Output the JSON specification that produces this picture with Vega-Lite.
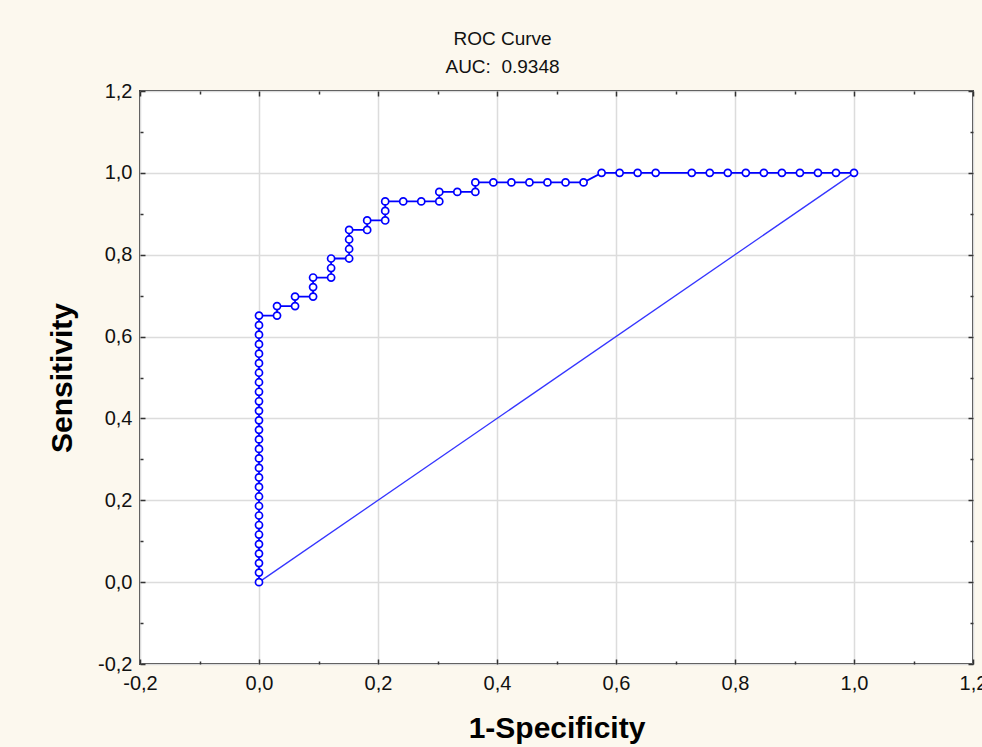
{
  "$schema": "https://vega.github.io/schema/vega-lite/v6.json",
  "autosize": "none",
  "width": 833,
  "height": 573,
  "padding": {"left": 140, "top": 91, "right": 9, "bottom": 83},
  "background": "#FCF8EE",
  "config": {
    "view": {"fill": "white", "stroke": "#3a3a3a", "strokeWidth": 2},
    "font": "Liberation Sans, Arial, sans-serif"
  },
  "title": {
    "text": ["ROC Curve", "AUC:\u00a0 0.9348"],
    "fontSize": 19,
    "fontWeight": "normal",
    "font": "Liberation Sans, Arial, sans-serif",
    "color": "#111",
    "lineHeight": 28,
    "anchor": "middle",
    "offset": 4,
    "dx": -54
  },
  "datasets": {
    "roc": [
      {"k": 1, "fpr": 0, "tpr": 0},
      {"k": 2, "fpr": 0, "tpr": 0.0233},
      {"k": 3, "fpr": 0, "tpr": 0.0465},
      {"k": 4, "fpr": 0, "tpr": 0.0698},
      {"k": 5, "fpr": 0, "tpr": 0.0930},
      {"k": 6, "fpr": 0, "tpr": 0.1163},
      {"k": 7, "fpr": 0, "tpr": 0.1395},
      {"k": 8, "fpr": 0, "tpr": 0.1628},
      {"k": 9, "fpr": 0, "tpr": 0.1860},
      {"k": 10, "fpr": 0, "tpr": 0.2093},
      {"k": 11, "fpr": 0, "tpr": 0.2326},
      {"k": 12, "fpr": 0, "tpr": 0.2558},
      {"k": 13, "fpr": 0, "tpr": 0.2791},
      {"k": 14, "fpr": 0, "tpr": 0.3023},
      {"k": 15, "fpr": 0, "tpr": 0.3256},
      {"k": 16, "fpr": 0, "tpr": 0.3488},
      {"k": 17, "fpr": 0, "tpr": 0.3721},
      {"k": 18, "fpr": 0, "tpr": 0.3953},
      {"k": 19, "fpr": 0, "tpr": 0.4186},
      {"k": 20, "fpr": 0, "tpr": 0.4419},
      {"k": 21, "fpr": 0, "tpr": 0.4651},
      {"k": 22, "fpr": 0, "tpr": 0.4884},
      {"k": 23, "fpr": 0, "tpr": 0.5116},
      {"k": 24, "fpr": 0, "tpr": 0.5349},
      {"k": 25, "fpr": 0, "tpr": 0.5581},
      {"k": 26, "fpr": 0, "tpr": 0.5814},
      {"k": 27, "fpr": 0, "tpr": 0.6047},
      {"k": 28, "fpr": 0, "tpr": 0.6279},
      {"k": 29, "fpr": 0, "tpr": 0.6512},
      {"k": 30, "fpr": 0.0303, "tpr": 0.6512},
      {"k": 31, "fpr": 0.0303, "tpr": 0.6744},
      {"k": 32, "fpr": 0.0606, "tpr": 0.6744},
      {"k": 33, "fpr": 0.0606, "tpr": 0.6977},
      {"k": 34, "fpr": 0.0909, "tpr": 0.6977},
      {"k": 35, "fpr": 0.0909, "tpr": 0.7209},
      {"k": 36, "fpr": 0.0909, "tpr": 0.7442},
      {"k": 37, "fpr": 0.1212, "tpr": 0.7442},
      {"k": 38, "fpr": 0.1212, "tpr": 0.7674},
      {"k": 39, "fpr": 0.1212, "tpr": 0.7907},
      {"k": 40, "fpr": 0.1515, "tpr": 0.7907},
      {"k": 41, "fpr": 0.1515, "tpr": 0.8140},
      {"k": 42, "fpr": 0.1515, "tpr": 0.8372},
      {"k": 43, "fpr": 0.1515, "tpr": 0.8605},
      {"k": 44, "fpr": 0.1818, "tpr": 0.8605},
      {"k": 45, "fpr": 0.1818, "tpr": 0.8837},
      {"k": 46, "fpr": 0.2121, "tpr": 0.8837},
      {"k": 47, "fpr": 0.2121, "tpr": 0.9070},
      {"k": 48, "fpr": 0.2121, "tpr": 0.9302},
      {"k": 49, "fpr": 0.2424, "tpr": 0.9302},
      {"k": 50, "fpr": 0.2727, "tpr": 0.9302},
      {"k": 51, "fpr": 0.3030, "tpr": 0.9302},
      {"k": 52, "fpr": 0.3030, "tpr": 0.9535},
      {"k": 53, "fpr": 0.3333, "tpr": 0.9535},
      {"k": 54, "fpr": 0.3636, "tpr": 0.9535},
      {"k": 55, "fpr": 0.3636, "tpr": 0.9767},
      {"k": 56, "fpr": 0.3939, "tpr": 0.9767},
      {"k": 57, "fpr": 0.4242, "tpr": 0.9767},
      {"k": 58, "fpr": 0.4545, "tpr": 0.9767},
      {"k": 59, "fpr": 0.4848, "tpr": 0.9767},
      {"k": 60, "fpr": 0.5152, "tpr": 0.9767},
      {"k": 61, "fpr": 0.5455, "tpr": 0.9767},
      {"k": 62, "fpr": 0.5758, "tpr": 1},
      {"k": 63, "fpr": 0.6061, "tpr": 1},
      {"k": 64, "fpr": 0.6364, "tpr": 1},
      {"k": 65, "fpr": 0.6667, "tpr": 1},
      {"k": 66, "fpr": 0.7273, "tpr": 1},
      {"k": 67, "fpr": 0.7576, "tpr": 1},
      {"k": 68, "fpr": 0.7879, "tpr": 1},
      {"k": 69, "fpr": 0.8182, "tpr": 1},
      {"k": 70, "fpr": 0.8485, "tpr": 1},
      {"k": 71, "fpr": 0.8788, "tpr": 1},
      {"k": 72, "fpr": 0.9091, "tpr": 1},
      {"k": 73, "fpr": 0.9394, "tpr": 1},
      {"k": 74, "fpr": 0.9697, "tpr": 1},
      {"k": 75, "fpr": 1, "tpr": 1}
    ],
    "diag": [
      {"k": 1, "fpr": 0, "tpr": 0},
      {"k": 2, "fpr": 1, "tpr": 1}
    ]
  },
  "layer": [
    {
      "data": {"name": "diag"},
      "mark": {"type": "line", "color": "#3535ff", "strokeWidth": 1.3, "clip": true},
      "encoding": {
        "x": {
          "field": "fpr", "type": "quantitative",
          "scale": {"domain": [-0.2, 1.2], "nice": false, "zero": false},
          "axis": {
            "values": [-0.2, -0.1, 0, 0.1, 0.2, 0.3, 0.4, 0.5, 0.6, 0.7, 0.8, 0.9, 1.0, 1.1, 1.2],
            "labelExpr": "round(datum.value*10)%2===0 ? (datum.value<0?'-':'') + replace(format(abs(datum.value),'.1f'),'.',',') : ''",
            "labelFont": "Liberation Sans, Arial, sans-serif",
            "labelFontSize": 20,
            "labelColor": "#111",
            "labelPadding": 14,
            "labelFlush": false,
            "labelOverlap": false,
            "domain": false,
            "grid": true,
            "gridColor": "#dcdcdc",
            "gridWidth": 1.5,
            "gridOpacity": {"condition": {"test": "round(datum.value*10)%2===0", "value": 1}, "value": 0},
            "tickColor": "#333",
            "tickWidth": 1.5,
            "tickSize": {"condition": {"test": "round(datum.value*10)%2===0", "value": -5}, "value": -3},
            "title": "1-Specificity",
            "titleFont": "Liberation Sans, Arial, sans-serif",
            "titleFontSize": 30,
            "titleFontWeight": "bold",
            "titleColor": "#000",
            "titlePadding": 18
          }
        },
        "y": {
          "field": "tpr", "type": "quantitative",
          "scale": {"domain": [-0.2, 1.2], "nice": false, "zero": false},
          "axis": {
            "values": [-0.2, -0.1, 0, 0.1, 0.2, 0.3, 0.4, 0.5, 0.6, 0.7, 0.8, 0.9, 1.0, 1.1, 1.2],
            "labelExpr": "round(datum.value*10)%2===0 ? (datum.value<0?'-':'') + replace(format(abs(datum.value),'.1f'),'.',',') : ''",
            "labelFont": "Liberation Sans, Arial, sans-serif",
            "labelFontSize": 20,
            "labelColor": "#111",
            "labelPadding": 13,
            "labelFlush": false,
            "labelOverlap": false,
            "domain": false,
            "grid": true,
            "gridColor": "#dcdcdc",
            "gridWidth": 1.5,
            "gridOpacity": {"condition": {"test": "round(datum.value*10)%2===0", "value": 1}, "value": 0},
            "tickColor": "#333",
            "tickWidth": 1.5,
            "tickSize": {"condition": {"test": "round(datum.value*10)%2===0", "value": -5}, "value": -3},
            "title": "Sensitivity",
            "titleFont": "Liberation Sans, Arial, sans-serif",
            "titleFontSize": 30,
            "titleFontWeight": "bold",
            "titleColor": "#000",
            "titlePadding": 20
          }
        },
        "order": {"field": "k", "type": "quantitative"}
      }
    },
    {
      "data": {"name": "roc"},
      "mark": {"type": "line", "color": "#0000ff", "strokeWidth": 1.8},
      "encoding": {
        "x": {"field": "fpr", "type": "quantitative",
          "axis": {
            "orient": "top",
            "values": [-0.2, -0.1, 0, 0.1, 0.2, 0.3, 0.4, 0.5, 0.6, 0.7, 0.8, 0.9, 1.0, 1.1, 1.2],
            "labels": false, "grid": false, "domain": false, "title": null,
            "tickColor": "#333", "tickWidth": 1.5,
            "tickSize": {"condition": {"test": "round(datum.value*10)%2===0", "value": -5}, "value": -3}
          }
        },
        "y": {"field": "tpr", "type": "quantitative",
          "axis": {
            "orient": "right",
            "values": [-0.2, -0.1, 0, 0.1, 0.2, 0.3, 0.4, 0.5, 0.6, 0.7, 0.8, 0.9, 1.0, 1.1, 1.2],
            "labels": false, "grid": false, "domain": false, "title": null,
            "tickColor": "#333", "tickWidth": 1.5,
            "tickSize": {"condition": {"test": "round(datum.value*10)%2===0", "value": -5}, "value": -3}
          }
        },
        "order": {"field": "k", "type": "quantitative"}
      }
    },
    {
      "data": {"name": "roc"},
      "mark": {"type": "point", "shape": "circle", "filled": false, "fill": "white", "fillOpacity": 1, "stroke": "#0000ff", "strokeWidth": 1.7, "size": 50, "opacity": 1},
      "encoding": {
        "x": {"field": "fpr", "type": "quantitative", "axis": null},
        "y": {"field": "tpr", "type": "quantitative", "axis": null}
      }
    }
  ],
  "resolve": {"axis": {"x": "independent", "y": "independent"}}
}
